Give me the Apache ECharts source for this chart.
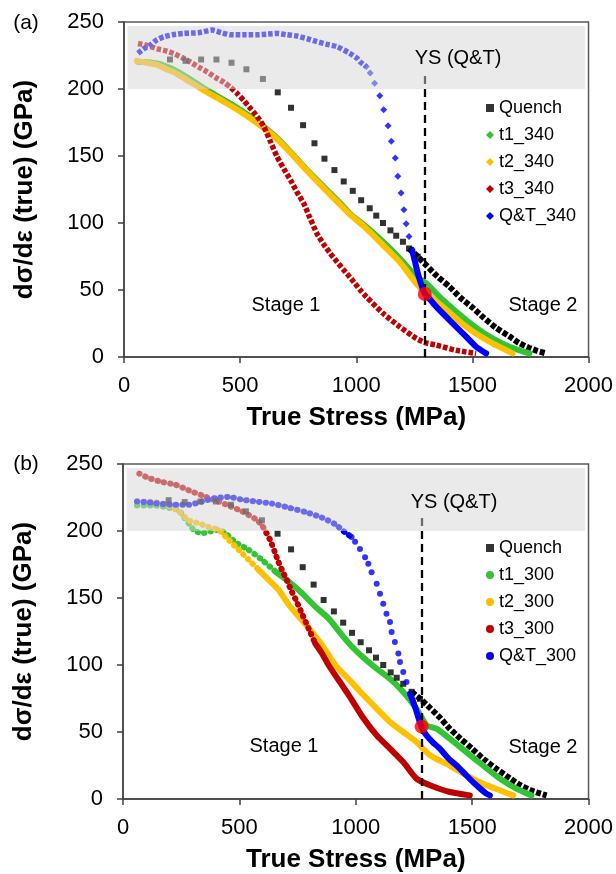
<!DOCTYPE html>
<html><head><meta charset="utf-8">
<script src="https://cdn.jsdelivr.net/npm/echarts@6/dist/echarts.min.js"></script>
<style>html,body{margin:0;padding:0;background:#fff}#c{width:616px;height:874px}</style>
</head><body><div id="c"></div>
<script>
// ---------- data ----------
const quenchA = [[198,222],[265,221],[332,222],[398,222],[463,219.6],[527,214.7],[598,207.5],[662,197.5],[719,186],[771,173],[820,159.5],[863,148],[906,139.5],[946,131],[985,124],[1021,117],[1058,111],[1086,105.5],[1115,100],[1147,94.5],[1172,90.5],[1201,86],[1227,81],[1265,74.8],[1304,68],[1350,60],[1401,52.5],[1450,44],[1500,37],[1544,30],[1600,22],[1659,15.4],[1700,10.5],[1745,6.8],[1780,4.5],[1817,2.7]];
const t1_340 = [[60,220.4],[100,220],[143,219],[180,217],[215,214.5],[250,211],[287,207],[344,200.5],[430,191.8],[502,184.3],[573,175.6],[645,165.6],[717,153],[788,139.5],[860,127],[932,114.6],[972,107],[1043,97.2],[1115,86],[1187,73.6],[1258,60],[1301,55],[1373,42.5],[1473,27.6],[1573,15.2],[1659,7.7],[1745,2.7]];
const t2_340 = [[55,221],[100,219.5],[143,218],[180,215],[215,212.5],[250,209],[287,205],[344,199],[430,190.5],[502,183],[573,174.5],[645,165],[717,152.5],[788,139],[860,126],[932,113.5],[972,106.5],[1043,96],[1115,83.5],[1187,71],[1258,55],[1301,47.5],[1373,37.5],[1473,22.6],[1573,11.4],[1673,2.7]];
const t3_340 = [[60,234],[100,232.5],[143,230],[180,228.5],[215,226.4],[250,223.5],[287,220],[320,216.5],[358,212.8],[395,208.5],[430,205],[460,201],[487,196.7],[515,191.5],[545,185.5],[575,179],[602,172],[630,161],[659,149.5],[688,140.5],[717,132],[745,123],[774,114.6],[800,104],[831,92],[860,84],[888,77.3],[917,71],[946,65],[980,58],[1017,50],[1043,45],[1115,32.6],[1187,22.6],[1258,13.9],[1300,10.5],[1344,8.9],[1430,5],[1516,2.7]];
const qt_340 = [[60,226.6],[85,230],[115,233],[140,236.5],[172,239],[210,240.5],[258,241.5],[320,242],[380,244],[420,242],[459,240.5],[520,240.5],[573,240.5],[620,241],[659,241.5],[700,240.5],[745,239.5],[790,237.5],[831,235.3],[870,233.5],[917,231.6],[972,226.6],[1003,223],[1015,220.5],[1043,216.7],[1060,212],[1079,204.3],[1101,195],[1118,184.5],[1137,172.5],[1151,161],[1168,148.5],[1179,134.8],[1193,122.3],[1205,109.8],[1215,99.4],[1227,90],[1240,80],[1251,72.5],[1265,62.5],[1280,54],[1294,47.5],[1320,42.5],[1344,37.6],[1401,27.6],[1473,15.2],[1516,7.7],[1559,2.7]];

const quenchB = [[196,223],[265,221.6],[332,222],[399,222],[464,219.6],[528,214.7],[597,208],[664,198],[722,186.3],[772,173],[819,160],[862,148.5],[906,140],[946,131.6],[984,124],[1021,117],[1057,111],[1087,105.5],[1118,100],[1150,94.5],[1176,90.5],[1204,86],[1240,80],[1276,74.8],[1319,68],[1360,61],[1404,52.5],[1450,45],[1500,37.5],[1548,30],[1600,23],[1663,15.4],[1700,11],[1748,6.8],[1785,4.5],[1820,2.7]];
const t1_300 = [[60,219],[100,219],[139,219],[196,217.4],[239,215.5],[261,210.6],[282,205.7],[304,200.8],[339,198.3],[382,200],[411,200.8],[440,198.3],[483,191.6],[540,185.9],[597,178.5],[654,169.8],[712,162.3],[769,153.6],[826,143.6],[883,134.8],[941,122.3],[984,113.6],[1030,106],[1090,97.2],[1147,89.7],[1204,79.8],[1261,67.4],[1304,55],[1347,52.5],[1404,45],[1475,35],[1547,25],[1619,15.2],[1690,7.7],[1755,2.7]];
const t2_300 = [[60,222],[100,222],[140,221.5],[180,220],[222,216.7],[243,214.2],[282,208],[325,205.7],[368,203],[411,200.8],[454,193.4],[497,186],[540,178.5],[583,171],[626,163.6],[669,156],[712,145],[755,136.2],[798,127.5],[855,115],[912,100],[972,89],[1020,80],[1090,67.4],[1147,57.5],[1204,50],[1261,42.5],[1319,32.6],[1404,25],[1475,17.7],[1547,11.4],[1619,6.5],[1676,2.7]];
const t3_300 = [[70,242.8],[110,239.6],[167,236.6],[225,234.6],[282,230.4],[339,226.6],[397,222.9],[454,219],[511,214.7],[569,209],[597,204.2],[614,199.2],[633,193],[651,184.8],[668,176.8],[686,169.8],[704,163.2],[726,154.5],[747,147],[769,138.3],[798,127],[826,116],[855,108.6],[883,100],[926,88.8],[972,77],[1030,61],[1090,47.5],[1147,37.6],[1204,27.6],[1261,15.2],[1319,10.2],[1404,5.2],[1490,2.7]];
const qt_300 = [[60,222],[100,221.5],[139,220.8],[180,220],[225,219.6],[282,219.6],[339,222],[397,224.6],[454,225.4],[511,223.4],[569,222],[640,220.5],[712,217.4],[783,214.2],[855,210],[912,205],[955,198.8],[982,195.5],[997,192],[1018,186.6],[1040,180.5],[1054,175.6],[1068,169.3],[1090,160.7],[1104,153.2],[1118,145.8],[1132,138.3],[1147,132],[1154,124.6],[1168,117.2],[1183,108.5],[1190,102.3],[1204,94.8],[1218,87.3],[1233,78.6],[1247,72.4],[1260,66],[1275,57.5],[1290,51],[1304,47.5],[1330,42.5],[1361,37.6],[1400,30],[1433,25],[1470,18.5],[1504,12.6],[1540,7],[1561,4],[1576,2.7]];

const ysA = 1295, ysB = 1283;          // YS (Q&T) stress
const ysTop = 213;
const dotA = [1295, 47], dotB = [1283, 54];
const band = [[15, 200], [1985, 247]];  // shaded region (stress, modulus)
const namesA = ['Quench','t1_340','t2_340','t3_340','Q&T_340'];
const namesB = ['Quench','t1_300','t2_300','t3_300','Q&T_300'];

// ---------- styles ----------
const FONT = '"Liberation Sans", Arial, sans-serif';
const colors = ['#000000','#33c433','#ffc000','#c00000','#0000ff'];
const AX = '#404040';

function segSeries(name, data, from, to, kind, color, gi) {
  const isScatter = (kind === 'sq' || kind === 'dia' || kind === 'circ');
  let d = data.filter(p => p[0] >= from && p[0] <= to);
  if (!isScatter) {
    const prev = data.filter(p => p[0] < from);
    if (prev.length) d = [prev[prev.length - 1]].concat(d);
  }
  const base = {name, data: d, xAxisIndex: gi, yAxisIndex: gi, silent: true, animation: false, z: 2};
  if (isScatter) {
    return Object.assign(base, {type:'scatter', symbol: kind==='sq'?'rect':(kind==='dia'?'diamond':'circle'),
      symbolSize: kind==='sq'?6:(kind==='dia'?7:6), itemStyle:{color}});
  }
  const ls = {color, width: 6, cap: 'butt'};
  if (kind === 'dashSq') { ls.type = [5, 2]; ls.width = 6; }
  if (kind === 'dashDia') { ls.type = [4.5, 2]; ls.width = 5.5; }
  if (kind === 'dot') { ls.type = [0.5, 6]; ls.cap = 'round'; ls.width = 6; }
  if (kind === 'solid') { ls.width = 6; ls.cap = 'round'; }
  return Object.assign(base, {type:'line', showSymbol:false, symbol:'none', smooth:0.2, lineStyle: ls});
}

const panels = [
  {gi:0, names:namesA, grid:{left:124, top:22, width:465, height:335}, ys:ysA, dot:dotA, markIcon:'diamond',
   curves:[
     [quenchA, [[0,1265,'sq'],[1265,2000,'dashSq']]],
     [t1_340, [[0,2000,'solid']]],
     [t2_340, [[0,2000,'solid']]],
     [t3_340, [[0,2000,'dashDia']]],
     [qt_340, [[0,1043,'dashDia'],[1043,1251,'dia'],[1251,2000,'solid']]]
   ]},
  {gi:1, names:namesB, grid:{left:123, top:464, width:466, height:335}, ys:ysB, dot:dotB, markIcon:'circle',
   curves:[
     [quenchB, [[0,1276,'sq'],[1276,2000,'dashSq']]],
     [t1_300, [[0,700,'dot'],[700,2000,'solid']]],
     [t2_300, [[0,600,'dot'],[600,2000,'solid']]],
     [t3_300, [[0,830,'dot'],[830,2000,'solid']]],
     [qt_300, [[0,982,'dot'],[982,1247,'circ'],[1247,2000,'solid']]]
   ]}
];

const grids = [], xAxes = [], yAxes = [], series = [], legends = [];
panels.forEach(p => {
  grids.push(Object.assign({show:true, borderColor:'#595959', borderWidth:1.5, backgroundColor:'transparent'}, p.grid));
  xAxes.push({type:'value', gridIndex:p.gi, min:0, max:2000, interval:500,
    name:'True Stress (MPa)', nameLocation:'middle', nameGap:48,
    nameTextStyle:{fontFamily:FONT, fontSize:26, fontWeight:'bold', color:'#000'},
    axisLine:{show:true, lineStyle:{color:AX, width:1.5}},
    axisTick:{show:true, inside:false, length:6, lineStyle:{color:AX, width:1.5}},
    axisLabel:{fontFamily:FONT, fontSize:22, color:'#000', margin:18, formatter: v => String(v)},
    splitLine:{show:false}});
  yAxes.push({type:'value', gridIndex:p.gi, min:0, max:250, interval:50,
    name:'dσ/dε (true) (GPa)', nameLocation:'middle', nameGap:86,
    nameTextStyle:{fontFamily:FONT, fontSize:26, fontWeight:'bold', color:'#000'},
    axisLine:{show:true, lineStyle:{color:AX, width:1.5}},
    axisTick:{show:true, inside:false, length:6, lineStyle:{color:AX, width:1.5}},
    axisLabel:{fontFamily:FONT, fontSize:22, color:'#000', margin:20, formatter: v => String(v)},
    splitLine:{show:false}});
  p.curves.forEach((c, i) => {
    c[1].forEach(s => series.push(segSeries(p.names[i], c[0], s[0], s[1], s[2], colors[i], p.gi)));
  });
  // translucent grey band drawn over the data
  series.push({type:'custom', xAxisIndex:p.gi, yAxisIndex:p.gi, z:10, silent:true, animation:false,
    data:[[band[0][0], band[0][1], band[1][0], band[1][1]]],
    renderItem: (params, api) => {
      const a = api.coord([api.value(0), api.value(1)]);
      const b = api.coord([api.value(2), api.value(3)]);
      return {type:'rect', shape:{x:a[0], y:b[1], width:b[0]-a[0], height:a[1]-b[1]},
        style:{fill:'rgba(214,214,214,0.5)'}};
    }});
  // YS dashed line
  series.push({type:'line', data:[], xAxisIndex:p.gi, yAxisIndex:p.gi, z:11, silent:true,
    markLine:{silent:true, symbol:['none','none'], label:{show:false}, animation:false,
      lineStyle:{color:'#000', width:2.3, type:[8,5]},
      data:[[{coord:[p.ys,0]},{coord:[p.ys,ysTop]}]]}});
  // red dot
  series.push({type:'scatter', data:[p.dot], xAxisIndex:p.gi, yAxisIndex:p.gi, z:12, silent:true,
    symbol:'circle', symbolSize:14, itemStyle:{color:'#ff0000'}});
  legends.push({orient:'vertical', left:481, top: p.gi===0 ? 93 : 533, selectedMode:false,
    itemWidth:8, itemHeight:8, itemGap:7,
    textStyle:{fontFamily:FONT, fontSize:18, color:'#000', lineHeight:20},
    data: p.names.map((n,i) => ({name:n, icon: i===0 ? 'rect' : p.markIcon, itemStyle:{color:colors[i]}}))});
});

function txt(t, x, y, size) {
  return {type:'text', x, y, z:100, silent:true,
    style:{text:t, fill:'#000', font: size + 'px ' + FONT, align:'center', verticalAlign:'middle',
      textAlign:'center', textVerticalAlign:'middle'}};
}
const graphics = [
  txt('(a)', 26, 23, 21), txt('YS (Q&T)', 458, 58, 20), txt('Stage 1', 286, 305, 20), txt('Stage 2', 543, 305, 20),
  txt('(b)', 26, 464, 21), txt('YS (Q&T)', 454, 502, 20), txt('Stage 1', 284, 746, 20), txt('Stage 2', 543, 747, 20)
];

const chart = echarts.init(document.getElementById('c'), null, {renderer:'canvas'});
chart.setOption({animation:false, backgroundColor:'#fff', grid:grids, xAxis:xAxes, yAxis:yAxes,
  series, legend:legends, graphic:graphics});
</script></body></html>
